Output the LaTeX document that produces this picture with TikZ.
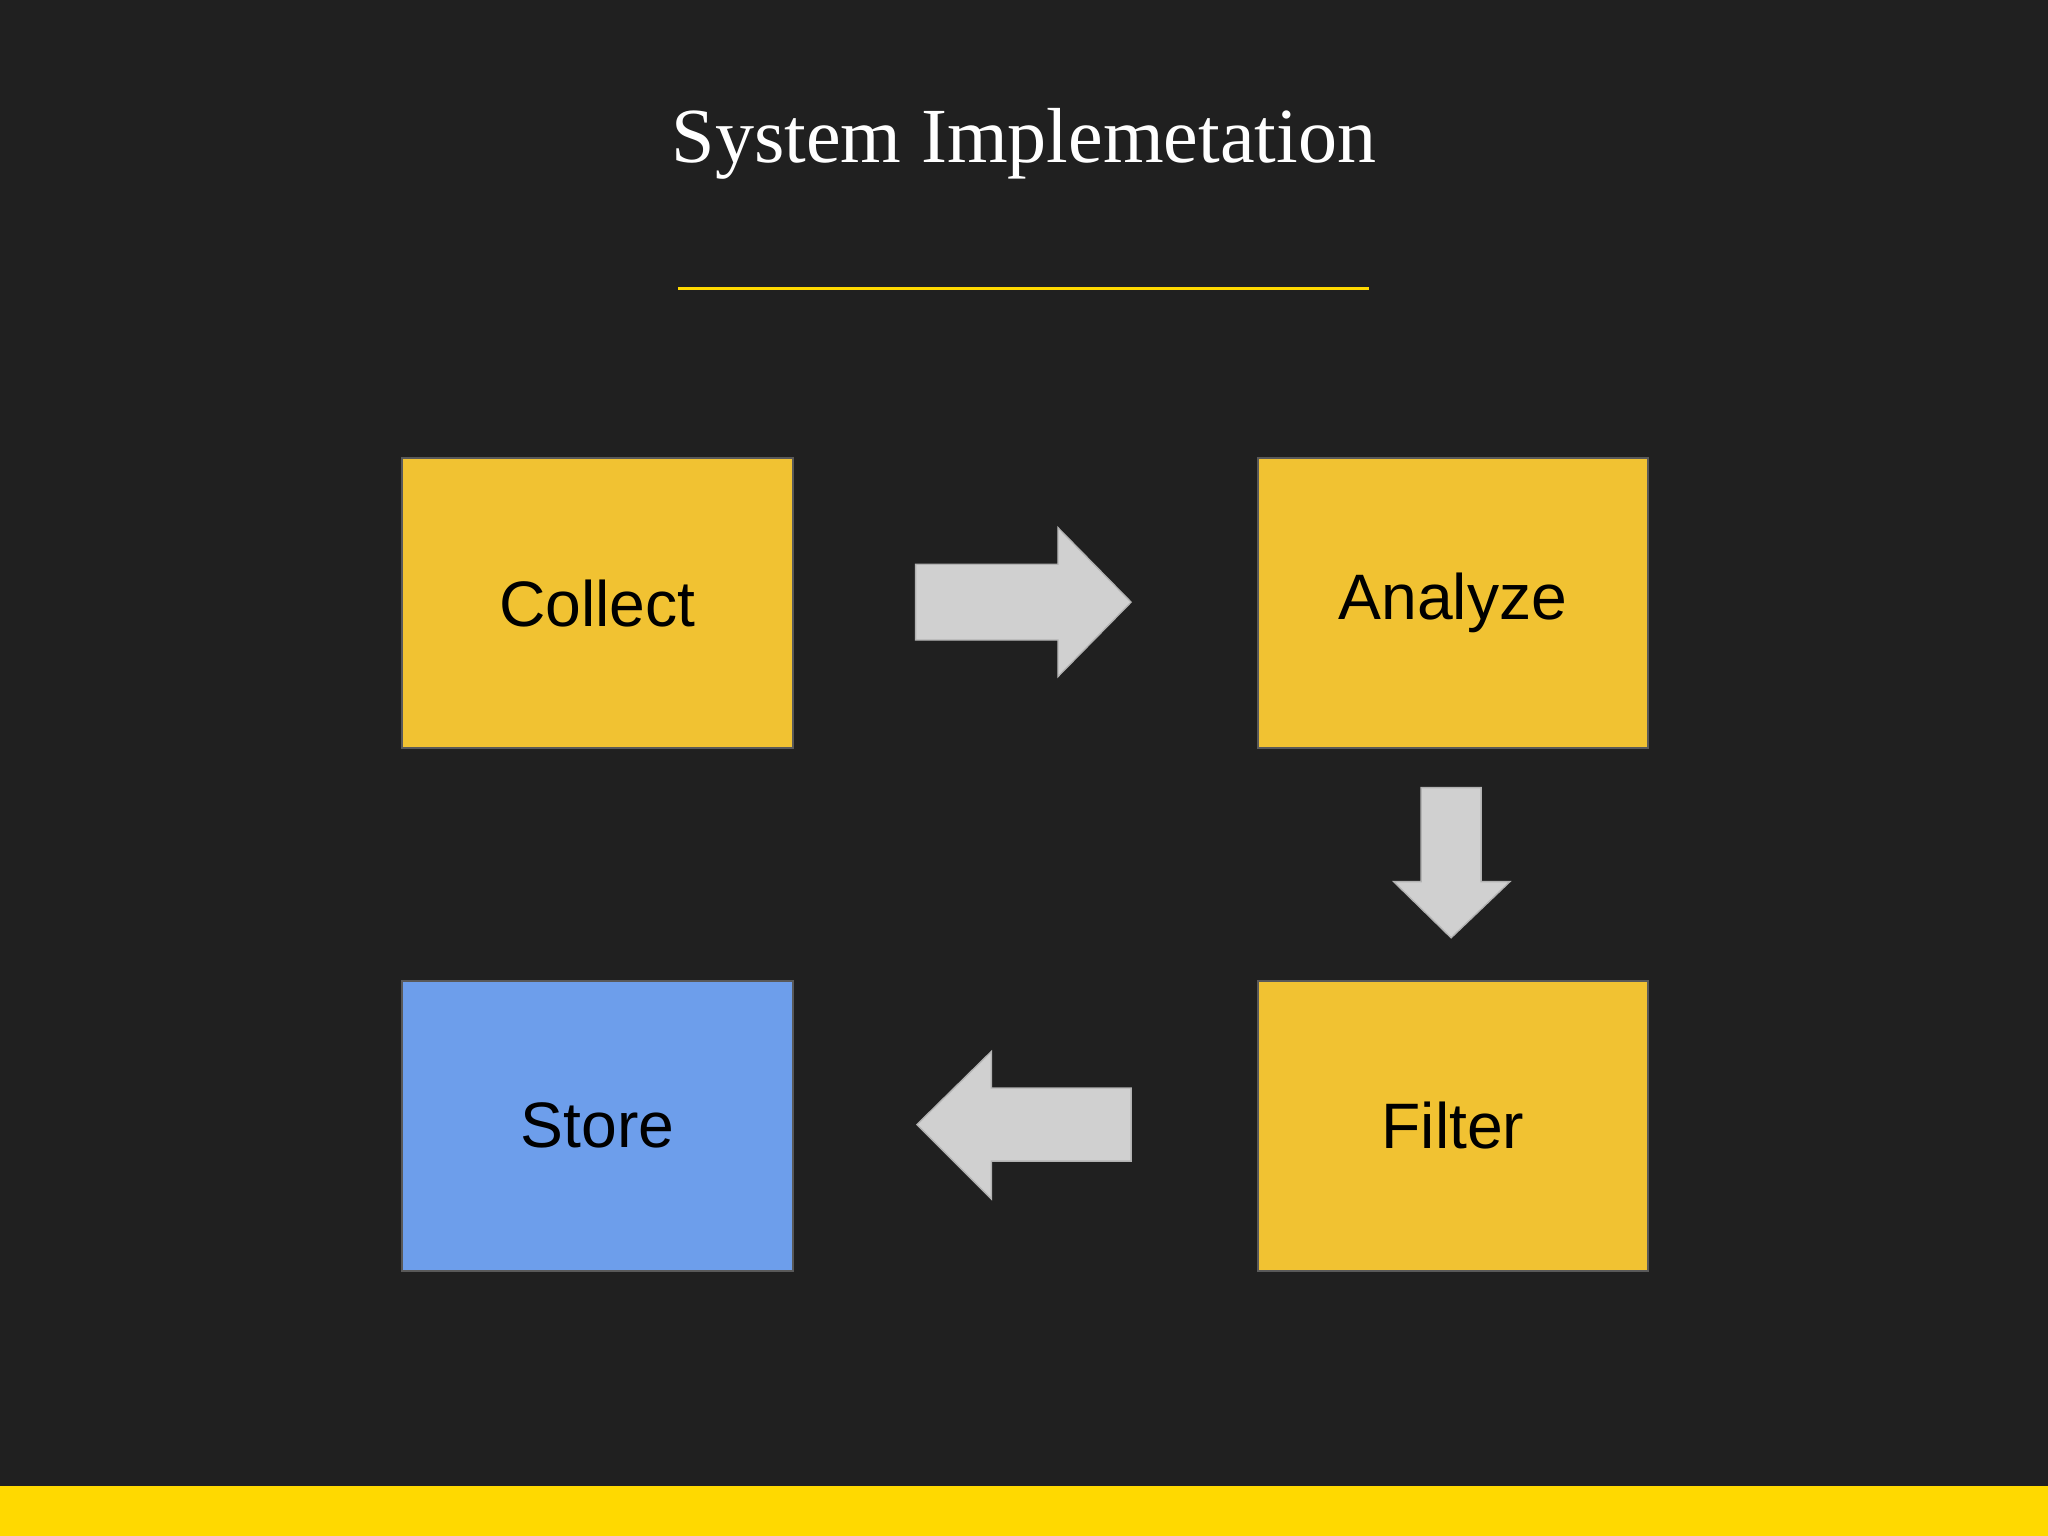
\documentclass[tikz,border=0pt]{standalone}
\usepackage{fontspec}
\setmainfont{Liberation Sans}
\newfontfamily\titlefont{Liberation Serif}
\definecolor{bg}{HTML}{202020}
\definecolor{boxy}{HTML}{F1C232}
\definecolor{boxb}{HTML}{6D9EEB}
\definecolor{band}{HTML}{FFD900}
\definecolor{arr}{HTML}{D0D0D0}
\begin{document}
\begin{tikzpicture}[x=0.02cm,y=-0.02cm,
  stepbox/.style={draw=gray!70!black,line width=1pt,minimum width=299*0.02cm,minimum height=222*0.02cm,anchor=north west,inner sep=0pt,font=\fontsize{28}{32}\selectfont,text=black},
  blockarrow/.style={fill=arr,draw=gray!60,line width=0.6pt}]
\useasboundingbox (0,0) rectangle (1568,1176);
\fill[bg] (0,0) rectangle (1568,1176);
\fill[band] (0,1138) rectangle (1568,1176);
\node[text=white,font=\titlefont\fontsize{34}{40}\selectfont] (title) at (784,110) {System Implemetation};
\draw[band,line width=1.2pt] (519,221) -- (1048,221);
\node[stepbox,fill=boxy] (collect) at (307,350) {Collect};
\node[stepbox,fill=boxy] (analyze) at (962,350) {Analyze};
\node[stepbox,fill=boxb] (store) at (307,750) {Store};
\node[stepbox,fill=boxy] (filter) at (962,750) {Filter};
\draw[blockarrow] (701,432) -- (810,432) -- (810,404) -- (866,461) -- (810,518) -- (810,490) -- (701,490) -- cycle;
\draw[blockarrow] (1088,603) -- (1134,603) -- (1134,675) -- (1156,675) -- (1111,718) -- (1067,675) -- (1088,675) -- cycle;
\draw[blockarrow] (866,833) -- (759,833) -- (759,805) -- (702,861) -- (759,918) -- (759,889) -- (866,889) -- cycle;
\end{tikzpicture}
\end{document}
